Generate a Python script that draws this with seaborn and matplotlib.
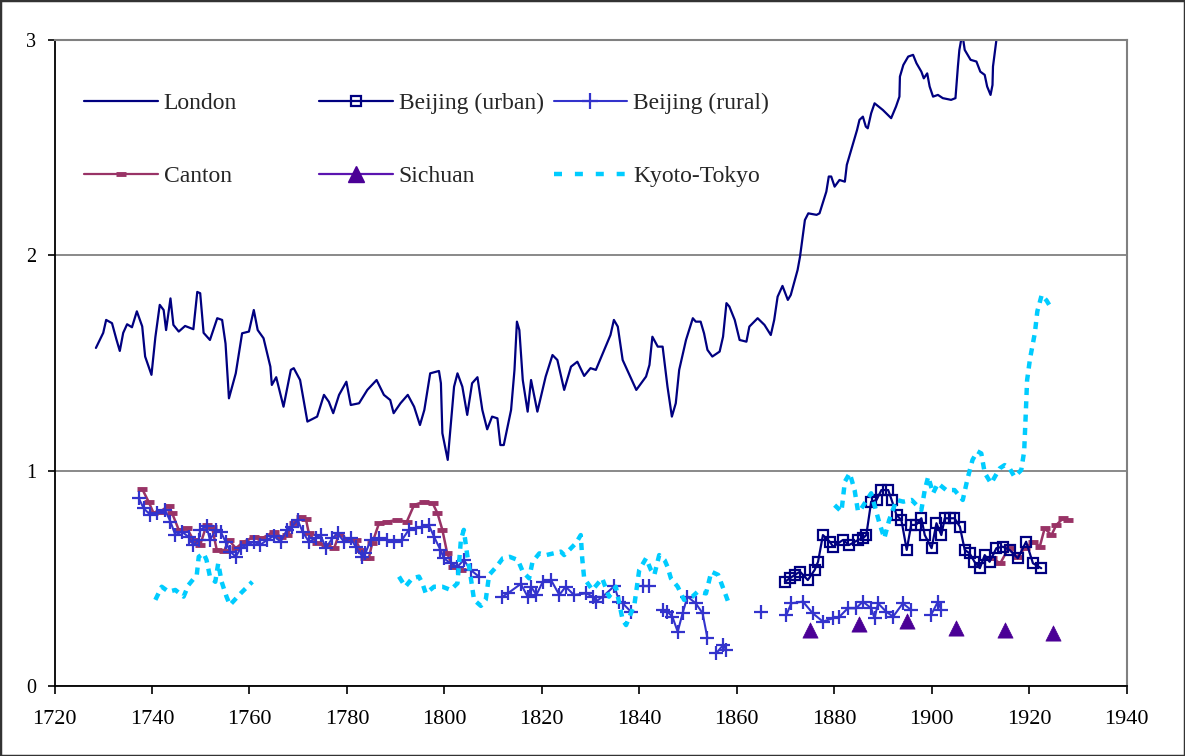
import numpy as np
import pandas as pd
import seaborn as sns
import matplotlib.pyplot as plt
from matplotlib.lines import Line2D
from matplotlib.legend import Legend
from matplotlib.patches import Rectangle

sns.set_theme(style="white")
plt.rcParams['font.family'] = ['Liberation Serif', 'DejaVu Serif']

N = np.nan  # gap in a series

# London
london_year = [1728.5, 1730.0, 1730.6, 1731.8, 1732.7, 1733.4, 1734.1, 1734.9, 1735.9, 1736.9,
               1738.0, 1738.6, 1739.9, 1740.7, 1741.6, 1742.4, 1742.9, 1743.8, 1744.4, 1745.5,
               1746.8, 1748.5, 1749.3, 1749.9, 1750.6, 1751.9, 1753.4, 1754.4, 1755.1, 1755.8,
               1757.2, 1758.5, 1759.9, 1760.9, 1761.7, 1762.9, 1764.3, 1764.6, 1765.5, 1767.0,
               1768.5, 1769.1, 1770.4, 1771.9, 1773.9, 1775.3, 1776.3, 1777.2, 1778.4, 1779.9,
               1780.8, 1782.5, 1784.2, 1786.1, 1787.6, 1788.9, 1789.6, 1791.0, 1792.5, 1793.8,
               1795.0, 1795.9, 1797.1, 1798.9, 1799.3, 1799.6, 1800.7, 1802.0, 1802.7, 1803.7,
               1804.7, 1805.7, 1806.8, 1807.8, 1808.8, 1809.8, 1810.9, 1811.5, 1812.2, 1813.7,
               1814.4, 1814.9, 1815.4, 1816.1, 1817.1, 1817.8, 1819.1, 1820.8, 1822.2, 1823.2,
               1824.6, 1826.0, 1827.3, 1828.7, 1830.0, 1831.1, 1832.1, 1834.1, 1834.8, 1835.6,
               1836.6, 1838.3, 1839.4, 1841.4, 1842.1, 1842.7, 1843.8, 1844.8, 1845.8, 1846.7,
               1847.5, 1848.2, 1849.6, 1851.0, 1851.6, 1852.6, 1853.3, 1854.0, 1855.0, 1856.5,
               1857.2, 1857.9, 1858.5, 1859.6, 1860.6, 1862.0, 1862.6, 1864.3, 1865.7, 1867.0,
               1867.7, 1868.4, 1869.4, 1870.5, 1871.1, 1872.5, 1873.0, 1874.0, 1874.7, 1876.4,
               1877.0, 1878.4, 1878.9, 1879.4, 1880.1, 1881.1, 1882.2, 1882.6, 1883.5, 1884.7,
               1885.2, 1885.9, 1886.5, 1886.9, 1887.6, 1888.3, 1890.0, 1891.7, 1892.7, 1893.4,
               1893.5, 1894.2, 1895.2, 1896.2, 1896.9, 1897.9, 1898.4, 1899.1, 1899.6, 1900.3,
               1901.3, 1902.3, 1904.0, 1904.9, 1905.4, 1905.7, 1906.3, 1906.8, 1908.0, 1909.2,
               1910.0, 1910.9, 1911.4, 1912.1, 1912.5, 1912.6, 1913.3, 1913.8]
london_val = [1.57, 1.64, 1.70, 1.685, 1.61, 1.556, 1.64, 1.68, 1.666, 1.74,
              1.67, 1.53, 1.445, 1.62, 1.77, 1.746, 1.653, 1.80, 1.677, 1.646,
              1.672, 1.657, 1.83, 1.824, 1.64, 1.607, 1.708, 1.70, 1.59, 1.336,
              1.452, 1.638, 1.646, 1.746, 1.653, 1.615, 1.483, 1.398, 1.434, 1.297,
              1.468, 1.476, 1.421, 1.228, 1.251, 1.352, 1.320, 1.267, 1.352, 1.413,
              1.305, 1.313, 1.375, 1.421, 1.352, 1.328, 1.267, 1.313, 1.352, 1.297,
              1.212, 1.282, 1.452, 1.463, 1.406, 1.174, 1.05, 1.39, 1.452, 1.39,
              1.259, 1.406, 1.434, 1.282, 1.192, 1.251, 1.243, 1.119, 1.119, 1.282,
              1.468, 1.692, 1.653, 1.421, 1.274, 1.421, 1.274, 1.437, 1.537, 1.514,
              1.375, 1.483, 1.506, 1.44, 1.476, 1.468, 1.522, 1.63, 1.70, 1.669,
              1.514, 1.429, 1.375, 1.437, 1.491, 1.622, 1.576, 1.576, 1.39, 1.251,
              1.313, 1.468, 1.607, 1.708, 1.692, 1.692, 1.638, 1.561, 1.53, 1.553,
              1.622, 1.778, 1.762, 1.70, 1.607, 1.599, 1.669, 1.708, 1.677, 1.630,
              1.70, 1.808, 1.858, 1.793, 1.816, 1.932, 1.994, 2.164, 2.195, 2.188,
              2.195, 2.296, 2.366, 2.366, 2.319, 2.350, 2.342, 2.42, 2.49, 2.582,
              2.629, 2.644, 2.598, 2.59, 2.66, 2.706, 2.675, 2.637, 2.691, 2.737,
              2.83, 2.884, 2.923, 2.931, 2.892, 2.853, 2.822, 2.845, 2.784, 2.737,
              2.745, 2.73, 2.722, 2.73, 2.877, 2.954, 3.03, 2.954, 2.908, 2.90,
              2.853, 2.838, 2.784, 2.745, 2.791, 2.877, 3.0, 3.1]

# Beijing (urban)
bj_urban_year = [1869.9, 1870.9, 1871.9, 1873.0, 1874.6, 1876.0, 1876.7, 1877.7, 1879.1, 1879.8,
                 1881.8, 1883.1, 1884.9, 1885.9, 1886.6, 1887.6, 1888.7, 1889.7, 1891.1, 1891.8,
                 1892.8, 1893.8, 1894.9, 1895.8, 1896.8, 1897.9, 1898.6, 1900.0, 1901.0, 1902.0,
                 1902.7, 1903.7, 1904.7, 1905.8, 1906.8, 1907.8, 1908.8, 1909.9, 1910.9, 1911.9,
                 1913.3, 1914.6, 1916.0, 1917.7, 1919.4, 1920.8, 1922.5]
bj_urban_val = [0.484, 0.50, 0.516, 0.531, 0.492, 0.539, 0.577, 0.701, 0.67, 0.647,
                0.678, 0.655, 0.678, 0.686, 0.701, 0.856, 0.864, 0.91, 0.91, 0.864,
                0.794, 0.771, 0.632, 0.748, 0.748, 0.779, 0.701, 0.64, 0.756, 0.701,
                0.779, 0.779, 0.779, 0.74, 0.632, 0.616, 0.577, 0.547, 0.608, 0.577,
                0.64, 0.647, 0.632, 0.593, 0.67, 0.57, 0.547]

# Beijing (rural)
bj_rural_year = [1737.3, 1738.3, 1739.7, 1741.0, 1742.7, 1743.8, 1744.8, 1746.1, 1747.5, 1748.5,
                 1749.6, 1749.9, 1751.2, 1751.9, 1753.1, 1754.1, 1755.1, 1756.1, 1757.2, 1758.2,
                 1759.5, 1760.9, 1762.2, 1763.6, 1765.0, 1766.4, 1767.7, 1768.7, 1769.9, 1770.9,
                 1772.2, 1773.6, 1774.6, 1775.7, 1777.0, 1778.1, 1779.4, 1780.8, 1781.8, 1783.2,
                 1783.8, 1784.9, 1786.6, 1788.3, 1789.6, 1791.3, 1792.7, 1794.1, 1795.5, 1796.8,
                 1797.9, 1799.2, 1799.9, 1801.3, 1802.7, 1804.0, 1805.4, 1807.1, N,
                 1811.9, 1813.0, 1815.7, 1817.1, 1817.8, 1818.9, 1820.2, 1821.9, 1823.6, 1824.9,
                 1826.6, 1829.1, 1830.5, 1831.1, 1832.5, 1834.9, 1835.9, 1836.6, 1838.3, N,
                 1840.7, 1842.1, N,
                 1844.8, 1845.8, 1846.8, 1847.9, 1848.9, 1849.9, 1851.6, 1853.0, 1854.0, N,
                 1855.8, 1857.2, 1857.9, N, 1865.0, N,
                 1870.2, 1871.2, 1873.6, 1875.6, 1877.7, 1879.7, 1881.1, 1882.8, 1884.5, 1885.9,
                 1887.6, 1888.3, 1889.0, 1890.7, 1892.1, 1894.1, 1895.8, N,
                 1899.9, 1901.3, 1902.0]
bj_rural_val = [0.872, 0.825, 0.794, 0.802, 0.817, 0.763, 0.701, 0.717, 0.693, 0.655,
                0.678, 0.725, 0.743, 0.678, 0.725, 0.717, 0.67, 0.624, 0.60, 0.64,
                0.655, 0.67, 0.655, 0.678, 0.697, 0.67, 0.725, 0.74, 0.771, 0.717,
                0.67, 0.686, 0.701, 0.64, 0.686, 0.709, 0.67, 0.686, 0.647, 0.60,
                0.616, 0.678, 0.686, 0.678, 0.67, 0.678, 0.725, 0.732, 0.74, 0.748,
                0.693, 0.632, 0.593, 0.57, 0.554, 0.585, 0.539, 0.508, N,
                0.415, 0.43, 0.474, 0.415, 0.461, 0.423, 0.484, 0.492, 0.423, 0.461,
                0.423, 0.43, 0.415, 0.392, 0.415, 0.464, 0.392, 0.384, 0.345, N,
                0.464, 0.464, N,
                0.353, 0.345, 0.322, 0.252, 0.338, 0.415, 0.384, 0.338, 0.222, N,
                0.152, 0.19, 0.167, N, 0.345, N,
                0.33, 0.384, 0.392, 0.338, 0.299, 0.314, 0.322, 0.361, 0.361, 0.392,
                0.361, 0.314, 0.384, 0.345, 0.322, 0.384, 0.353, N,
                0.33, 0.392, 0.353]

# Canton
canton_year = [1738.0, 1739.3, 1740.3, 1741.7, 1743.4, 1744.1, 1745.5, 1747.2, 1748.5, 1749.9,
               1751.2, 1752.3, 1753.3, 1754.8, 1755.8, 1757.2, 1758.9, 1760.9, 1762.6, 1765.0,
               1766.4, 1767.7, 1769.2, 1770.5, 1771.6, 1772.2, 1773.9, 1775.7, 1777.4, 1778.4,
               1780.1, 1781.8, 1782.8, 1783.8, 1784.5, 1785.2, 1786.6, 1788.3, 1790.3, 1792.3,
               1793.8, 1795.9, 1797.6, 1798.6, 1799.6, 1800.6, 1801.7, 1803.5, N,
               1912.3, 1914.1, 1915.8, 1917.5, 1919.2, 1920.9, 1922.2, 1923.2, 1924.6, 1925.6,
               1927.0, 1928.0]
canton_val = [0.915, 0.856, 0.805, 0.81, 0.837, 0.805, 0.725, 0.732, 0.678, 0.655,
              0.748, 0.74, 0.632, 0.628, 0.678, 0.64, 0.67, 0.693, 0.686, 0.717,
              0.693, 0.701, 0.756, 0.786, 0.774, 0.709, 0.663, 0.655, 0.64, 0.706,
              0.681, 0.678, 0.632, 0.593, 0.593, 0.663, 0.756, 0.763, 0.771, 0.763,
              0.841, 0.856, 0.849, 0.802, 0.725, 0.616, 0.554, 0.54, N,
              0.593, 0.57, 0.64, 0.60, 0.64, 0.67, 0.647, 0.732, 0.701, 0.748,
              0.779, 0.771]

# Sichuan
sichuan_year = [1875, 1885, 1895, 1905, 1915, 1925]
sichuan_val = [0.26, 0.29, 0.30, 0.27, 0.26, 0.245]

# Kyoto-Tokyo
kyoto_year = [1740.7, 1742.0, 1743.4, 1744.8, 1746.5, 1747.5, 1749.2, 1749.6, 1750.6, 1751.2,
              1751.9, 1753.0, 1753.6, 1754.3, 1755.3, 1756.0, 1758.2, 1760.6, N,
              1790.7, 1792.0, 1793.4, 1794.8, 1795.5, 1796.2, 1797.9, 1799.6, 1801.3, 1802.7,
              1803.4, 1804.0, 1804.7, 1805.4, 1806.1, 1807.5, 1808.5, 1809.2, 1810.7, 1812.0,
              1813.4, 1815.1, 1816.1, 1817.4, 1818.1, 1819.5, 1820.9, 1823.9, 1824.6, 1827.0,
              1828.0, 1828.3, 1828.7, 1830.4, 1832.4, 1833.8, 1835.2, 1836.6, 1837.3, 1839.0,
              1840.0, 1841.4, 1842.4, 1843.1, 1844.1, 1845.2, 1845.8, 1846.5, 1847.9, 1849.2,
              1850.9, 1852.0, 1853.7, 1854.8, 1856.2, 1857.5, 1858.5, N,
              1880.1, 1881.5, 1882.2, 1883.2, 1884.2, 1884.9, 1885.6, 1887.6, 1889.3, 1890.3,
              1891.3, 1892.8, 1894.2, 1895.9, 1897.9, 1898.6, 1899.3, 1900.3, 1901.3, 1903.0,
              1904.7, 1906.4, 1907.4, 1908.4, 1909.4, 1910.2, 1910.9, 1912.2, 1914.0, 1915.0,
              1916.0, 1917.0, 1918.4, 1919.0, 1919.3, 1919.6, 1920.2, 1921.2, 1921.7, 1922.6,
              1923.6, 1924.4]
kyoto_val = [0.40, 0.461, 0.438, 0.446, 0.415, 0.469, 0.516, 0.60, 0.616, 0.585,
             0.508, 0.484, 0.57, 0.484, 0.415, 0.376, 0.43, 0.484, N,
             0.508, 0.461, 0.50, 0.508, 0.477, 0.43, 0.461, 0.461, 0.446, 0.477,
             0.678, 0.725, 0.608, 0.508, 0.40, 0.372, 0.40, 0.516, 0.554, 0.593,
             0.60, 0.585, 0.531, 0.50, 0.577, 0.616, 0.608, 0.624, 0.608, 0.663,
             0.701, 0.593, 0.50, 0.446, 0.50, 0.415, 0.461, 0.307, 0.283, 0.376,
             0.539, 0.593, 0.539, 0.516, 0.608, 0.585, 0.554, 0.50, 0.461, 0.40,
             0.415, 0.438, 0.43, 0.531, 0.516, 0.438, 0.376, N,
             0.84, 0.81, 0.949, 0.988, 0.91, 0.81, 0.825, 0.895, 0.756, 0.686,
             0.771, 0.864, 0.856, 0.864, 0.817, 0.91, 0.972, 0.895, 0.941, 0.91,
             0.91, 0.864, 0.965, 1.05, 1.09, 1.08, 0.99, 0.941, 1.011, 1.026,
             1.011, 0.972, 1.003, 1.09, 1.25, 1.42, 1.52, 1.64, 1.74, 1.816,
             1.79, 1.76]

x_ticks = [1720, 1740, 1760, 1780, 1800, 1820, 1840, 1860, 1880, 1900, 1920, 1940]
y_ticks = [0, 1, 2, 3]

C_LONDON = '#000080'
C_URBAN = '#000080'
C_RURAL = '#3333CC'
C_CANTON = '#993366'
C_SICHUAN = '#4B0096'
C_KYOTO = '#00CCFF'


def series(years, vals):
    df = pd.DataFrame({'year': years, 'val': vals})
    df['seg'] = df['val'].isna().cumsum()
    return df.dropna()


fig = plt.figure(figsize=(11.85, 7.56), dpi=100)
ax = fig.add_axes([54.5 / 1185, 70 / 756, 1072 / 1185, 646 / 756])

sns.lineplot(data=series(canton_year, canton_val), x='year', y='val', units='seg',
             estimator=None, sort=False, ax=ax, color=C_CANTON, lw=1.8,
             marker='_', ms=7, mew=3.5, mec=C_CANTON)
sns.lineplot(data=series(bj_rural_year, bj_rural_val), x='year', y='val', units='seg',
             estimator=None, sort=False, ax=ax, color=C_RURAL, lw=1.5,
             marker='+', ms=10, mew=1.6, mec=C_RURAL)
sns.lineplot(data=series(bj_urban_year, bj_urban_val), x='year', y='val', units='seg',
             estimator=None, sort=False, ax=ax, color=C_URBAN, lw=1.6,
             marker='s', ms=7.5, mew=1.6, mfc='none', mec=C_URBAN)
sns.lineplot(data=series(london_year, london_val), x='year', y='val', units='seg',
             estimator=None, sort=False, ax=ax, color=C_LONDON, lw=1.6)
sns.scatterplot(x=sichuan_year, y=sichuan_val, ax=ax, marker='^', s=120,
                color=C_SICHUAN, edgecolor=C_SICHUAN, linewidth=0.5, zorder=5)
sns.lineplot(data=series(kyoto_year, kyoto_val), x='year', y='val', units='seg',
             estimator=None, sort=False, ax=ax, color=C_KYOTO, lw=3.2,
             linestyle=(0, (1.6, 1.4)))

ax.set_xlim(1720, 1940)
ax.set_ylim(0, 3)
ax.set_xticks(x_ticks)
ax.set_yticks(y_ticks)
ax.set_xlabel('')
ax.set_ylabel('')
ax.yaxis.grid(True, color='#808080', lw=1.3)
ax.xaxis.grid(False)
ax.set_axisbelow(True)
for side in ['top', 'right']:
    ax.spines[side].set_color('#808080')
    ax.spines[side].set_linewidth(1.5)
for side in ['left', 'bottom']:
    ax.spines[side].set_color('black')
    ax.spines[side].set_linewidth(1.3)
ax.tick_params(axis='x', direction='out', length=6, width=1.2, color='black',
               bottom=True, labelsize=16, pad=11, labelcolor='black')
ax.tick_params(axis='y', direction='out', length=5, width=1.2, color='black',
               left=True, labelsize=14.5, pad=8, labelcolor='black')

# legend: three columns of two rows
h_london = Line2D([], [], color=C_LONDON, lw=1.6)
h_urban = Line2D([], [], color=C_URBAN, lw=1.6, marker='s', ms=7.5, mfc='none', mew=1.6)
h_rural = Line2D([], [], color=C_RURAL, lw=1.5, marker='+', ms=12, mew=1.6)
h_canton = Line2D([], [], color=C_CANTON, lw=1.6, marker='_', ms=7, mew=3.5)
h_sichuan = Line2D([], [], color='#5B14B0', lw=1.6, marker='^', ms=11, mfc=C_SICHUAN, mec=C_SICHUAN)
h_kyoto = Line2D([], [], color=C_KYOTO, lw=3.2, linestyle=(0, (1.8, 2.9)))

columns = [([h_london, h_canton], ['London', 'Canton'], 0.0275),
           ([h_urban, h_sichuan], ['Beijing (urban)', 'Sichuan'], 0.2467),
           ([h_rural, h_kyoto], ['Beijing (rural)', 'Kyoto-Tokyo'], 0.4655)]
for handles, labels, xa in columns:
    leg = Legend(ax, handles, labels, loc='upper left', bbox_to_anchor=(xa, 0.919),
                 frameon=False, fontsize=17, handlelength=3.13, handletextpad=0.25,
                 borderpad=0, borderaxespad=0, labelspacing=2.2)
    ax.add_artist(leg)

fig.patches.append(Rectangle((0, 0), 1, 1, transform=fig.transFigure, fill=False,
                             ec='#333333', lw=2.5))

fig.savefig('out.png', dpi=100)
